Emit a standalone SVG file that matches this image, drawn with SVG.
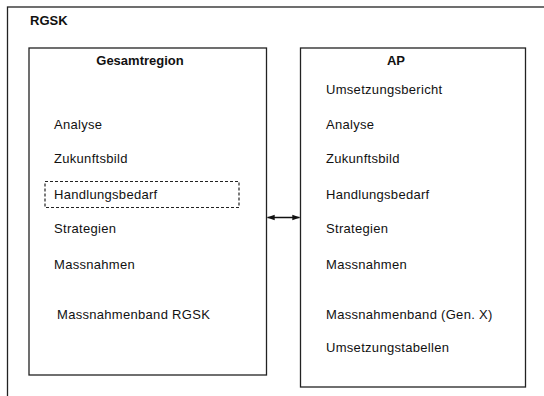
<svg xmlns="http://www.w3.org/2000/svg" width="544" height="396" viewBox="0 0 544 396">
<style>
.frame{fill:none;stroke:#222;stroke-width:1.3}
.t{font-family:"Liberation Sans",Arial,sans-serif;font-size:13px;fill:#111;letter-spacing:0.3px}
.b{font-family:"Liberation Sans",Arial,sans-serif;font-size:13px;font-weight:bold;fill:#111}
.dash{fill:none;stroke:#222;stroke-width:1.2;stroke-dasharray:3,2}
.conn{stroke:#111;stroke-width:1.3;fill:none}
</style>
<defs>
<marker id="ah" viewBox="0 0 10 10" refX="9" refY="5" markerWidth="8" markerHeight="7" orient="auto-start-reverse" markerUnits="userSpaceOnUse" preserveAspectRatio="none">
<path d="M0,1 L10,5 L0,9 z" fill="#111"/>
</marker>
</defs>
<rect width="544" height="396" fill="#fff"/>
<g id="rgsk">
<rect class="frame" x="7.5" y="7" width="545" height="400"/>
<text class="b" x="30" y="25">RGSK</text>
</g>
<g id="gesamtregion">
<rect class="frame" x="29" y="48" width="237.5" height="327"/>
<text class="b" x="140" y="65" text-anchor="middle">Gesamtregion</text>
<text class="t" x="54" y="129">Analyse</text>
<text class="t" x="54" y="163">Zukunftsbild</text>
<g id="handlungsbedarf-g">
<rect class="dash" x="45" y="181.5" width="194" height="26"/>
<text class="t" x="54" y="199">Handlungsbedarf</text>
</g>
<text class="t" x="54" y="233">Strategien</text>
<text class="t" x="54" y="269">Massnahmen</text>
<text class="t" x="57" y="319">Massnahmenband RGSK</text>
</g>
<g id="ap">
<rect class="frame" x="300.5" y="48" width="225" height="339"/>
<text class="b" x="396" y="65" text-anchor="middle">AP</text>
<text class="t" x="326" y="94">Umsetzungsbericht</text>
<text class="t" x="326" y="129">Analyse</text>
<text class="t" x="326" y="163">Zukunftsbild</text>
<text class="t" x="326" y="199">Handlungsbedarf</text>
<text class="t" x="326" y="233">Strategien</text>
<text class="t" x="326" y="269">Massnahmen</text>
<text class="t" x="326" y="319">Massnahmenband (Gen. X)</text>
<text class="t" x="326" y="352">Umsetzungstabellen</text>
</g>
<g id="connectors">
<line class="conn" x1="267.5" y1="217.5" x2="299.5" y2="217.5" marker-start="url(#ah)" marker-end="url(#ah)"/>
</g>
</svg>
